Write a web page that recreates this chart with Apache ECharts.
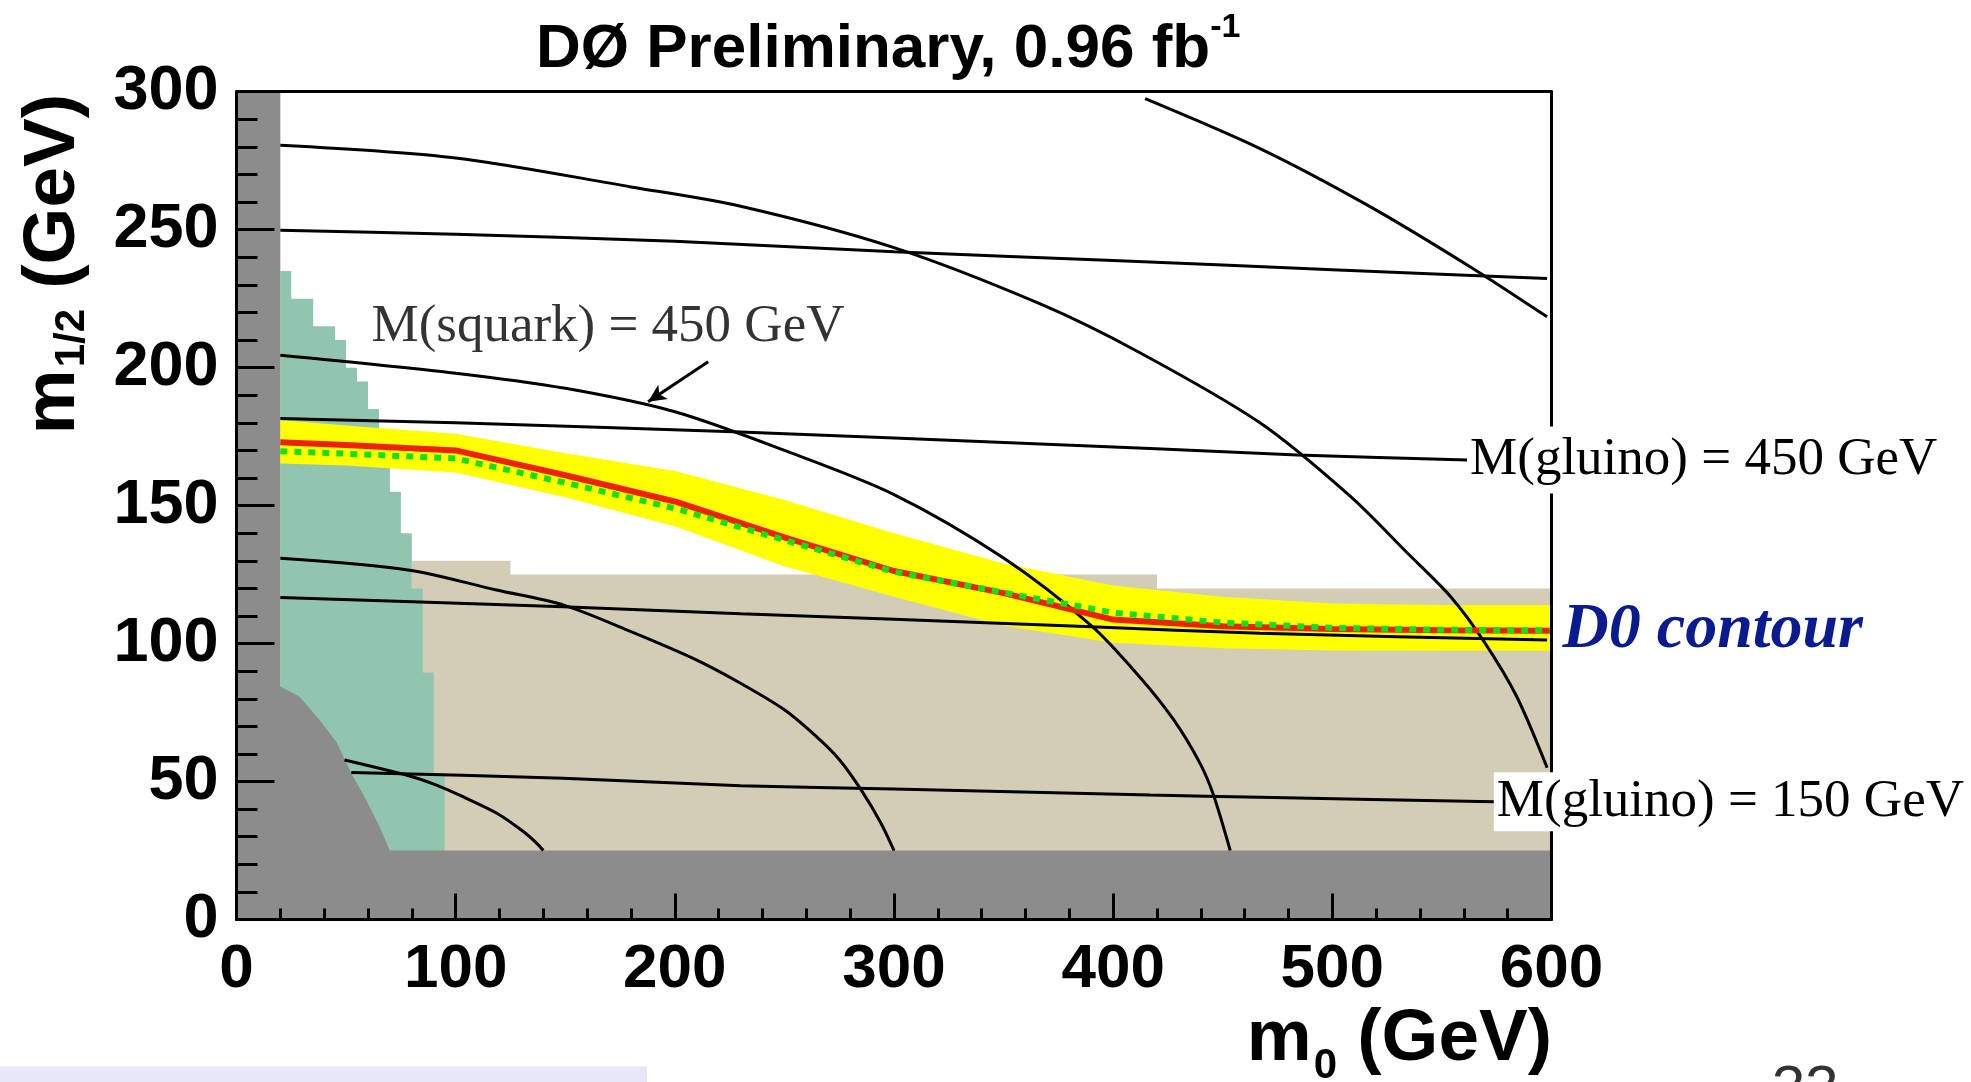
<!DOCTYPE html>
<html><head><meta charset="utf-8">
<script src="https://cdn.jsdelivr.net/npm/echarts/dist/echarts.min.js"></script>
<style>html,body{margin:0;padding:0;background:#fff;}#c{width:1971px;height:1082px;}</style>
</head><body><div id="c"></div>
<script>
// ---------- data (m0 in GeV on x, m1/2 in GeV on y) ----------
const titleMain = 'DØ Preliminary, 0.96 fb';
const titleSup = '-1';
const xTicks = [0, 100, 200, 300, 400, 500, 600];
const yTicks = [0, 50, 100, 150, 200, 250, 300];

// theoretically excluded region (grey)
const grayX = [0, 20, 20, 28.8, 37.9, 45.5, 52.4, 58.4, 65.3, 69.9, 600];
const grayY = [300, 300, 84.4, 80.7, 72.3, 64.4, 53, 44.5, 33.6, 25, 25];
// LEP excluded region (teal histogram)
const lepX = [20, 25, 35, 45, 50, 55, 60, 65, 70, 75, 80, 85, 90, 95];
const lepY = [235, 225, 215, 210, 200, 195, 185, 175, 155, 140, 120, 89.5, 53, 25];
// previous limits (tan)
const tanX = [80, 125, 420, 600];
const tanY = [130, 125, 120, 120];

// D0 limit contour
const contourX = [20, 50, 100, 150, 200, 250, 300, 350, 400, 450, 500, 550, 600];
const bandHigh = [181, 179, 176, 169, 162.5, 152, 140, 129, 121, 117, 114.5, 114, 114];
const bandLow = [165.3, 164.5, 162, 153, 142.5, 128, 117, 106.5, 100.3, 98.3, 97.5, 97.4, 97.4];
const observed = [173, 172, 170, 161, 151.5, 138.5, 126.3, 118.3, 108.7, 106.3, 105.3, 104.8, 104.6];
const expected = [169.7, 168.8, 167.1, 158.3, 149, 137.5, 126, 118.5, 111.2, 107.6, 105.7, 105, 104.8];

// gluino iso-mass lines
const glu1X = [52.4, 149, 230, 300, 417, 467, 573.7];
const glu1Y = [53.3, 51.2, 48.5, 47.3, 45.1, 44.3, 42.7];
const glu2X = [20, 149, 230, 300, 390, 467, 598];
const glu2Y = [116.7, 113.3, 110.8, 108.8, 106.1, 103.7, 101.3];
const glu3X = [20, 100, 230, 300, 417, 484, 561.5];
const glu3Y = [181.6, 180, 176.7, 174.5, 170.7, 168.3, 166.5];
const glu4X = [20, 100, 200, 300, 400, 500, 598];
const glu4Y = [249.8, 248.3, 245.8, 242, 238.8, 235.5, 232.3];

// squark iso-mass lines
const sq1X = [49.3, 79, 91.2, 103.3, 118.6, 130.7, 136.8, 140];
const sq1Y = [57.8, 52, 48.7, 44.5, 38.6, 32, 27.8, 25];
const sq2X = [20, 79, 118.6, 149, 180, 210, 230, 250, 265, 275, 285, 294, 300];
const sq2Y = [130.9, 126.6, 119.4, 114, 104.3, 94, 85.6, 76, 66, 58, 47, 35, 25];
const sq3X = [20, 100, 150, 200, 250, 300, 350, 390, 412, 427.5, 439.7, 445.8, 453.4];
const sq3Y = [204.5, 198, 192.5, 184, 170, 154, 131, 106.5, 88, 72.5, 56.5, 45, 25];
const sq4X = [20, 100, 180, 230, 300, 367, 412, 467, 508, 534, 554, 569, 584, 598];
const sq4Y = [280.6, 276, 265.5, 258.5, 243.5, 223, 205.5, 180, 153.5, 133, 117, 101, 81, 55];
const sq5X = [414.6, 467, 516, 563, 598];
const sq5Y = [297.5, 279.4, 258.9, 236.5, 218.4];

// annotations
const squarkLabel = 'M(squark) = 450 GeV';
const squarkLabelAt = [61.6, 214.7];
const arrowFrom = [215.2, 202.1];
const arrowTo = [187.8, 187.6];
const gluino450Label = 'M(gluino) = 450 GeV';
const gluino150Label = 'M(gluino) = 150 GeV';
const contourLabel = 'D0 contour';
const slideNumber = '33';

// ---------- chart ----------
const zip = (xs, ys) => xs.map((x, i) => [x, ys[i]]);
const SANS = 'Liberation Sans, Arial, sans-serif';
const SERIF = 'Liberation Serif, Times New Roman, serif';

function blackLine(name, xs, ys, extra) {
  return Object.assign({
    type: 'line', name, data: zip(xs, ys), symbol: 'none', showSymbol: false,
    smooth: 0.3, z: 6, silent: true,
    lineStyle: { color: '#000', width: 3 }
  }, extra || {});
}
function region(name, xs, ys, color, z, step) {
  return {
    type: 'line', name, data: zip(xs, ys), symbol: 'none', showSymbol: false,
    step: step || false, z, silent: true,
    lineStyle: { opacity: 0, width: 0 },
    areaStyle: { color, opacity: 1 }
  };
}
const serifLabel = { fontFamily: SERIF, fontSize: 53, color: '#000' };

const chart = echarts.init(document.getElementById('c'), null, { renderer: 'canvas' });
chart.setOption({
  animation: false,
  backgroundColor: '#fff',
  title: {
    text: '{a|' + titleMain + '}{b|' + titleSup + '}',
    left: 536, top: 11, padding: 0,
    textStyle: {
      rich: {
        a: { fontFamily: SANS, fontWeight: 'bold', fontSize: 62, color: '#000', lineHeight: 70, padding: [8, 0, 0, 0], verticalAlign: 'top' },
        b: { fontFamily: SANS, fontWeight: 'bold', fontSize: 34, color: '#000', lineHeight: 34, verticalAlign: 'top' }
      }
    }
  },
  grid: { left: 236.5, top: 91.7, width: 1315, height: 827.8, containLabel: false, outerBoundsMode: 'none', show: false },
  xAxis: [{
    type: 'value', min: xTicks[0], max: xTicks[xTicks.length - 1], interval: 100, position: 'bottom', z: 10,
    axisLine: { show: true, onZero: false, lineStyle: { color: '#000', width: 3 } },
    axisTick: { show: true, inside: true, length: 26, lineStyle: { color: '#000', width: 3 } },
    minorTick: { show: true, splitNumber: 5, length: 11, lineStyle: { color: '#000', width: 3 } },
    splitLine: { show: false }, minorSplitLine: { show: false },
    axisLabel: { fontFamily: SANS, fontWeight: 'bold', fontSize: 62, color: '#000', margin: 19 }
  }, {
    type: 'value', min: 0, max: 600, position: 'top', z: 10,
    axisLine: { show: true, onZero: false, lineStyle: { color: '#000', width: 3 } },
    axisTick: { show: false }, axisLabel: { show: false }, splitLine: { show: false }
  }],
  yAxis: [{
    type: 'value', min: yTicks[0], max: yTicks[yTicks.length - 1], interval: 50, position: 'left', z: 10,
    axisLine: { show: true, onZero: false, lineStyle: { color: '#000', width: 3 } },
    axisTick: { show: true, inside: true, length: 38, lineStyle: { color: '#000', width: 3 } },
    minorTick: { show: true, splitNumber: 5, length: 21, lineStyle: { color: '#000', width: 3 } },
    splitLine: { show: false }, minorSplitLine: { show: false },
    axisLabel: { fontFamily: SANS, fontWeight: 'bold', fontSize: 63, color: '#000', margin: 18, padding: [33, 0, 0, 0] }
  }, {
    type: 'value', min: 0, max: 300, position: 'right', z: 10,
    axisLine: { show: true, onZero: false, lineStyle: { color: '#000', width: 3 } },
    axisTick: { show: false }, axisLabel: { show: false }, splitLine: { show: false }
  }],
  series: [
    region('Previous limits', tanX, tanY, '#d3cdb6', 2, 'end'),
    region('LEP excluded', lepX, lepY, '#91c5b0', 3, 'end'),
    region('Theoretically excluded', grayX, grayY, '#8c8c8c', 4, false),
    {
      type: 'custom', name: 'Expected ±1σ', z: 5, silent: true,
      data: contourX.map((x, i) => [x, bandLow[i], bandHigh[i]]),
      encode: { x: 0, y: [1, 2] },
      renderItem: function (params, api) {
        if (params.dataIndex !== 0) return null;
        const pts = [];
        contourX.forEach((x, i) => pts.push(api.coord([x, bandHigh[i]])));
        for (let i = contourX.length - 1; i >= 0; i--) pts.push(api.coord([contourX[i], bandLow[i]]));
        return { type: 'polygon', shape: { points: pts }, style: { fill: '#ffff00' } };
      }
    },
    blackLine('M(gluino) 150', glu1X, glu1Y, {
      z: 12, smooth: 0.2,
      endLabel: Object.assign({ show: true, formatter: gluino150Label, distance: 0, backgroundColor: '#fff', padding: [3, 4, 3, 3], lineHeight: 53 }, serifLabel)
    }),
    blackLine('M(gluino) 300', glu2X, glu2Y, { smooth: 0.2 }),
    blackLine('M(gluino) 450', glu3X, glu3Y, {
      z: 12, smooth: 0.2,
      endLabel: Object.assign({ show: true, formatter: gluino450Label, distance: 0, backgroundColor: '#fff', padding: [7, 4, 7, 3], lineHeight: 53 }, serifLabel)
    }),
    blackLine('M(gluino) 600', glu4X, glu4Y, { smooth: 0.2 }),
    blackLine('M(squark) 150', sq1X, sq1Y),
    blackLine('M(squark) 300', sq2X, sq2Y),
    blackLine('M(squark) 450', sq3X, sq3Y, {
      markLine: {
        silent: true, symbol: ['none', 'arrow'], symbolSize: [13, 18], animation: false,
        label: { show: false },
        lineStyle: { color: '#000', width: 3, type: 'solid' },
        data: [[{ coord: arrowFrom }, { coord: arrowTo }]]
      }
    }),
    blackLine('M(squark) 600', sq4X, sq4Y),
    blackLine('M(squark) 750', sq5X, sq5Y),
    {
      type: 'line', name: 'Observed', data: zip(contourX, observed), symbol: 'none', showSymbol: false,
      z: 7, silent: true, lineStyle: { color: '#ee2200', width: 6 },
      endLabel: { show: true, formatter: contourLabel, distance: 11, fontFamily: SERIF, fontStyle: 'italic', fontWeight: 'bold', fontSize: 64, color: '#0a1a8f' }
    },
    {
      type: 'line', name: 'Expected', data: zip(contourX, expected), symbol: 'none', showSymbol: false,
      z: 8, silent: true, lineStyle: { color: '#14e014', width: 6, type: [7, 7], cap: 'butt' }
    },
    {
      type: 'scatter', name: 'squark label', data: [squarkLabelAt], symbolSize: 0, z: 12, silent: true,
      label: Object.assign({ show: true, position: 'right', distance: 0, formatter: squarkLabel }, serifLabel)
    }
  ],
  graphic: [
    {
      type: 'rect', left: 0, top: 1066.5, z: 1, silent: true,
      shape: { width: 647, height: 16 }, style: { fill: '#e6e8fa' }
    },
    {
      type: 'text', x: 1772, y: 1060, z: 1, silent: true,
      style: { text: slideNumber, fontFamily: SANS, fontSize: 60, fill: '#333', verticalAlign: 'top', align: 'left' }
    },
    {
      type: 'text', x: 1552, y: 1003, z: 20, silent: true,
      style: {
        text: '{m|m}{s|0}{m| (GeV)}', align: 'right', verticalAlign: 'top',
        rich: {
          m: { fontFamily: SANS, fontWeight: 'bold', fontSize: 73, lineHeight: 73, verticalAlign: 'top', fill: '#000' },
          s: { fontFamily: SANS, fontWeight: 'bold', fontSize: 42, lineHeight: 42, padding: [42, 0, 0, 2], verticalAlign: 'top', fill: '#000' }
        }
      }
    },
    {
      type: 'text', x: 54, y: 94, rotation: Math.PI / 2, z: 20, silent: true,
      style: {
        text: '{m|m}{s|1/2}{m| (GeV)}', align: 'right', verticalAlign: 'middle',
        rich: {
          m: { fontFamily: SANS, fontWeight: 'bold', fontSize: 73, lineHeight: 73, verticalAlign: 'top', fill: '#000' },
          s: { fontFamily: SANS, fontWeight: 'bold', fontSize: 42, lineHeight: 42, padding: [34, 0, 0, 2], verticalAlign: 'top', fill: '#000' }
        }
      }
    }
  ]
});
</script></body></html>
